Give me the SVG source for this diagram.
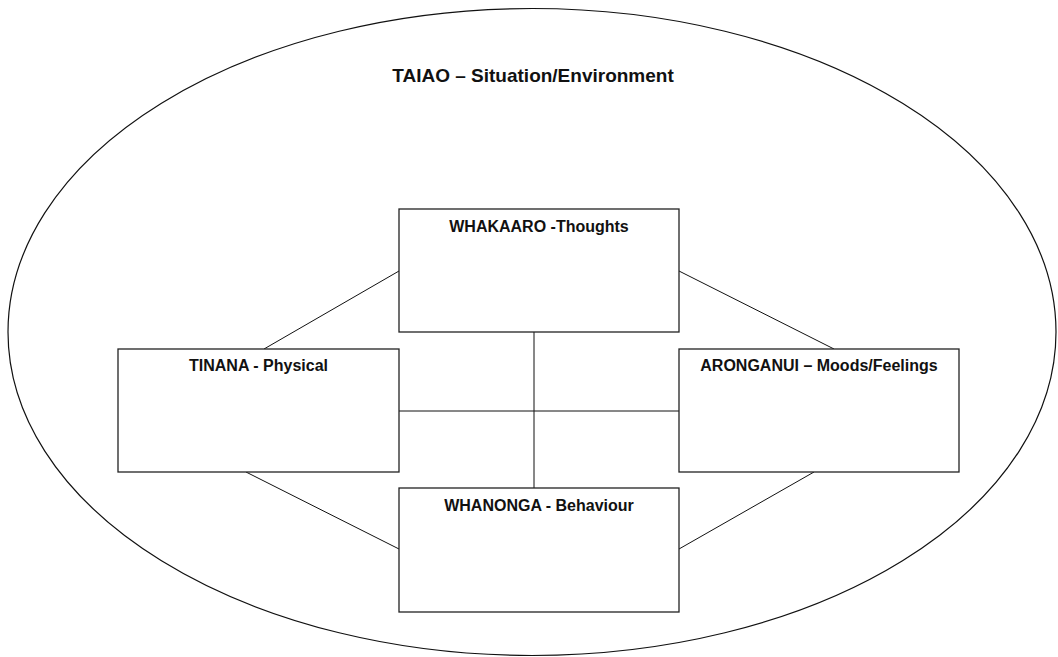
<svg xmlns="http://www.w3.org/2000/svg" width="1058" height="657" viewBox="0 0 1058 657">
  <style>
    .box { fill: #ffffff; stroke: #222222; stroke-width: 1.3; }
    .link { stroke: #111111; stroke-width: 1; fill: none; }
    .label { font-family: "Liberation Sans", Arial, sans-serif; font-weight: bold; font-size: 16px; fill: #111111; text-anchor: middle; }
    .title { font-family: "Liberation Sans", Arial, sans-serif; font-weight: bold; font-size: 19px; fill: #111111; text-anchor: middle; }
  </style>
  <rect x="0" y="0" width="1058" height="657" fill="#ffffff"/>

  <!-- surrounding environment -->
  <g id="taiao">
    <ellipse cx="532" cy="332" rx="524" ry="323.5" fill="none" stroke="#111111" stroke-width="1.2"/>
    <text class="title" x="533" y="82">TAIAO – Situation/Environment</text>
  </g>

  <!-- connecting lines between the four aspects -->
  <g id="connectors">
    <line class="link" x1="264" y1="349" x2="399" y2="271"/>
    <line class="link" x1="679" y1="271" x2="834" y2="349"/>
    <line class="link" x1="246" y1="472" x2="399" y2="549"/>
    <line class="link" x1="814" y1="472" x2="679" y2="549"/>
    <line class="link" x1="534" y1="332" x2="534" y2="488"/>
    <line class="link" x1="399" y1="411" x2="679" y2="411"/>
  </g>

  <g id="whakaaro">
    <rect class="box" x="399" y="209" width="280" height="123"/>
    <text class="label" x="539" y="232">WHAKAARO -Thoughts</text>
  </g>

  <g id="tinana">
    <rect class="box" x="118" y="349" width="281" height="123"/>
    <text class="label" x="258.5" y="371">TINANA - Physical</text>
  </g>

  <g id="aronganui">
    <rect class="box" x="679" y="349" width="280" height="123"/>
    <text class="label" x="819" y="371">ARONGANUI – Moods/Feelings</text>
  </g>

  <g id="whanonga">
    <rect class="box" x="399" y="488" width="280" height="124"/>
    <text class="label" x="539" y="511">WHANONGA - Behaviour</text>
  </g>
</svg>
